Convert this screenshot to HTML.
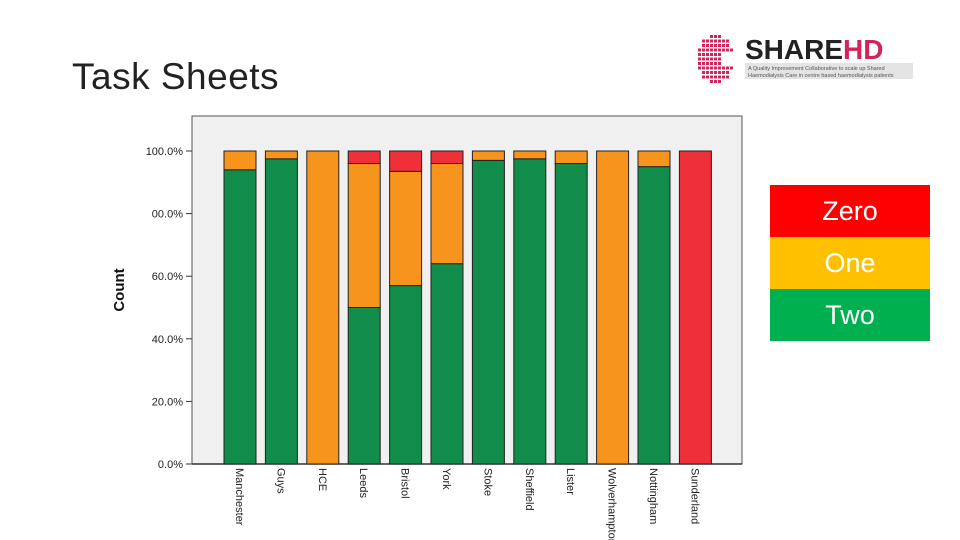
<!DOCTYPE html>
<html><head><meta charset="utf-8"><style>
body{margin:0;width:960px;height:540px;background:#fff;overflow:hidden;font-family:"Liberation Sans",sans-serif;position:relative}
.title{position:absolute;left:72px;top:56px;font-size:37px;color:#222;letter-spacing:0.5px}
.legend{position:absolute;left:770px;top:185px;width:160px}
.legend div{height:52px;line-height:52px;text-align:center;font-size:27px;color:#fff}
</style></head><body>
<div class="title">Task Sheets</div>
<svg style="position:absolute;left:690px;top:32px" width="230" height="56">
<g id="dots"></g>
<text x="55" y="27" font-size="28" font-weight="bold" fill="#222" font-family="Liberation Sans">SHARE<tspan fill="#d0245a">HD</tspan></text>
<rect x="55" y="31" width="168" height="16" fill="#e4e4e4"/>
<text x="58" y="38" font-size="5.5" fill="#555">A Quality Improvement Collaborative to scale up Shared</text>
<text x="58" y="45" font-size="5.5" fill="#555">Haemodialysis Care in centre based haemodialysis patients</text>
</svg>
<svg id="chart" style="position:absolute;left:0;top:0" width="960" height="540"></svg>
<div class="legend">
<div style="background:#ff0000">Zero</div>
<div style="background:#ffc000">One</div>
<div style="background:#00b050">Two</div>
</div>
<script>
const categories=["Manchester","Guys","HCE","Leeds","Bristol","York","Stoke","Sheffield","Lister","Wolverhampton","Nottingham","Sunderland"];
const twoVals=[94,97.5,0,50,57,64,97,97.5,96,0,95,0];
const oneVals=[6,2.5,100,46,36.5,32,3,2.5,4,100,5,0];
const zeroVals=[0,0,0,4,6.5,4,0,0,0,0,0,100];
const tickVals=[0,20,40,60,80,100];
const tickLabels=["0.0%","20.0%","40.0%","60.0%","00.0%","100.0%"];
const NS="http://www.w3.org/2000/svg";
const svg=document.getElementById('chart');
function el(t,a,p){const e=document.createElementNS(NS,t);for(const k in a)e.setAttribute(k,a[k]);(p||svg).appendChild(e);return e;}
const y=v=>464-v*3.13;
const x=i=>224+i*41.4;
const bw=32;
let r=el('rect',{x:192,y:116,width:550,height:348,fill:'#f0f0f0',stroke:'#555','stroke-width':1});

let ax=el('line',{x1:192,y1:464,x2:742,y2:464,stroke:'#333','stroke-width':1.5});

tickVals.forEach((v,i)=>{
  let t=el('line',{x1:186,x2:192,y1:y(v),y2:y(v),stroke:'#333'});
  
  let tx=el('text',{x:183,y:y(v)+4,'text-anchor':'end','font-size':11,fill:'#222'});
  tx.textContent=tickLabels[i];
  
});
let yt=el('text',{x:0,y:0,transform:'translate(124,290) rotate(-90)','text-anchor':'middle','font-size':15,'font-weight':'bold',fill:'#111'});
yt.textContent='Count';

categories.forEach((c,i)=>{
  let base=0;
  [[twoVals[i],'#118c4a','two'],[oneVals[i],'#f7941d','one'],[zeroVals[i],'#ef3038','zero']].forEach(s=>{
    if(s[0]<=0)return;
    let b=el('rect',{x:x(i),y:y(base+s[0]),width:bw,height:s[0]*3.13,fill:s[1],stroke:'#222','stroke-width':1});
    
    
    base+=s[0];
  });
  let lb=el('text',{x:0,y:0,transform:`translate(${x(i)+bw/2-4},468) rotate(90)`,'font-size':11,fill:'#222'});
  lb.textContent=c;
  
});
const dots=document.getElementById('dots');
for(let cx=0;cx<9;cx++)for(let cy=0;cy<11;cy++){
  const dx=cx-4,dy=cy-5;
  if(dx*dx/20+dy*dy/30>1)continue;
  if(cx>5&&cy>3&&cy<7)continue;
  const d=document.createElementNS(NS,'rect');
  d.setAttribute('x',8+cx*4);d.setAttribute('y',3+cy*4.5);d.setAttribute('width',3);d.setAttribute('height',3);d.setAttribute('fill','#d0245a');
  dots.appendChild(d);
}
</script>
</body></html>
